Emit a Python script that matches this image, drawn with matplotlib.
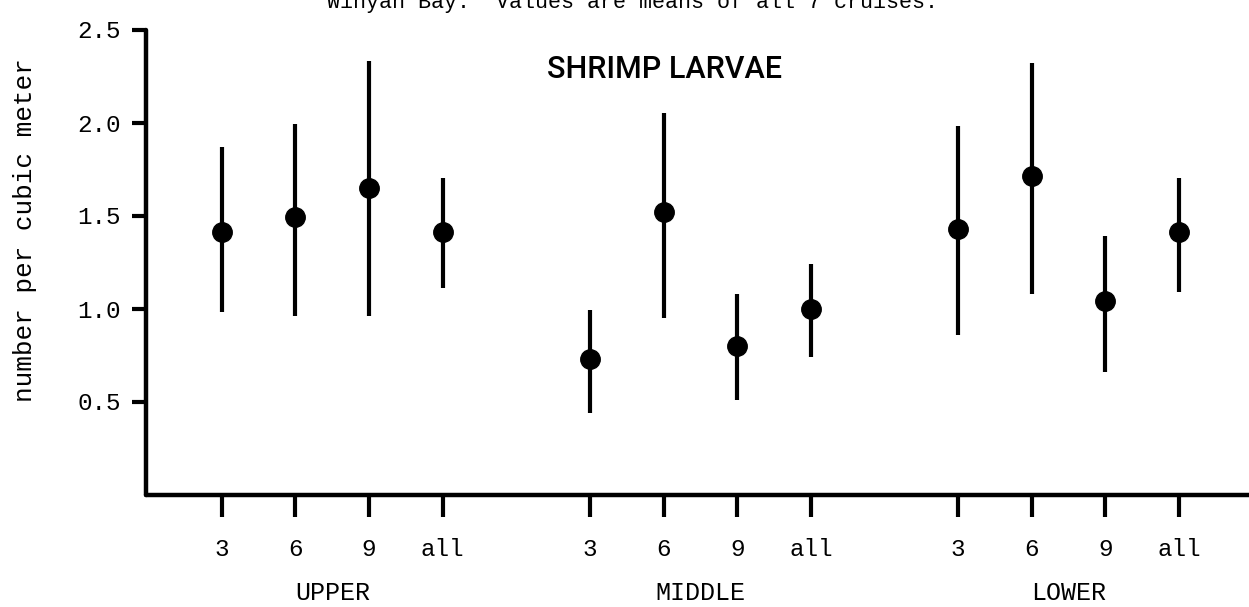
import matplotlib
matplotlib.use("Agg")
import matplotlib.pyplot as plt
import matplotlib.transforms as mtransforms

# Shrimp larvae density by depth and station region
regions = ["UPPER", "MIDDLE", "LOWER"]
depths = ["3", "6", "9", "all"]

upper_mean = [1.41, 1.49, 1.65, 1.41]
upper_high = [1.87, 1.99, 2.33, 1.70]
upper_low = [0.98, 0.96, 0.96, 1.11]

middle_mean = [0.73, 1.52, 0.80, 1.00]
middle_high = [0.99, 2.05, 1.08, 1.24]
middle_low = [0.44, 0.95, 0.51, 0.74]

lower_mean = [1.43, 1.71, 1.04, 1.41]
lower_high = [1.98, 2.32, 1.39, 1.70]
lower_low = [0.86, 1.08, 0.66, 1.09]

y_ticks = [0.5, 1.0, 1.5, 2.0, 2.5]

means = [upper_mean, middle_mean, lower_mean]
highs = [upper_high, middle_high, lower_high]
lows = [upper_low, middle_low, lower_low]

mono = "Liberation Mono"

fig = plt.figure(figsize=(12.49, 6.07), dpi=100)
W, H = 1249, 607
left_px, right_px, top_px, bottom_px = 146, 1249, 29.5, 494.5
ax = fig.add_axes([left_px / W, 1 - bottom_px / H,
                   (right_px - left_px) / W, (bottom_px - top_px) / H])

group_gap = 5
xs_all, labels_all = [], []
for g, region in enumerate(regions):
    xs = [g * group_gap + i for i in range(len(depths))]
    m, hi, lo = means[g], highs[g], lows[g]
    yerr = [[mv - lv for mv, lv in zip(m, lo)], [hv - mv for mv, hv in zip(m, hi)]]
    ax.errorbar(xs, m, yerr=yerr, fmt="o", color="black", markersize=14,
                elinewidth=3.0, capsize=0, zorder=3)
    xs_all += xs
    labels_all += depths
    trans = mtransforms.blended_transform_factory(ax.transData, fig.transFigure)
    ax.text(sum(xs) / len(xs), 1 - 593 / H, region, transform=trans,
            ha="center", va="center", fontsize=18, family=mono)

ax.set_xlim(-1.03, 13.95)
ax.set_ylim(0, 2.5)

for side in ("top", "right"):
    ax.spines[side].set_visible(False)
for side in ("left", "bottom"):
    ax.spines[side].set_linewidth(3.2)
    ax.spines[side].set_capstyle("round")

ax.set_xticks(xs_all)
ax.set_xticklabels(labels_all, family=mono, fontsize=17.5)
ax.tick_params(axis="x", direction="out", length=16, width=3, pad=15)
ax.set_yticks(y_ticks)
ax.set_yticklabels([f"{v:.1f}" for v in y_ticks], family=mono, fontsize=17.5)
ax.tick_params(axis="y", direction="out", length=10, width=3, pad=8)

fig.text(25 / W, 1 - 230 / H, "number per cubic meter", rotation=90,
         ha="center", va="center", fontsize=18.8, family=mono)

ax.text(0.47, 0.915, "SHRIMP LARVAE", transform=ax.transAxes,
        ha="center", va="center", fontsize=22, family="Roboto",
        fontweight="medium")

fig.text(327 / W, 1 - 8 / H, "Winyah Bay.  Values are means of all 7 cruises.",
         ha="left", va="baseline", fontsize=15.7, family=mono)

fig.savefig("out.png", dpi=100)
